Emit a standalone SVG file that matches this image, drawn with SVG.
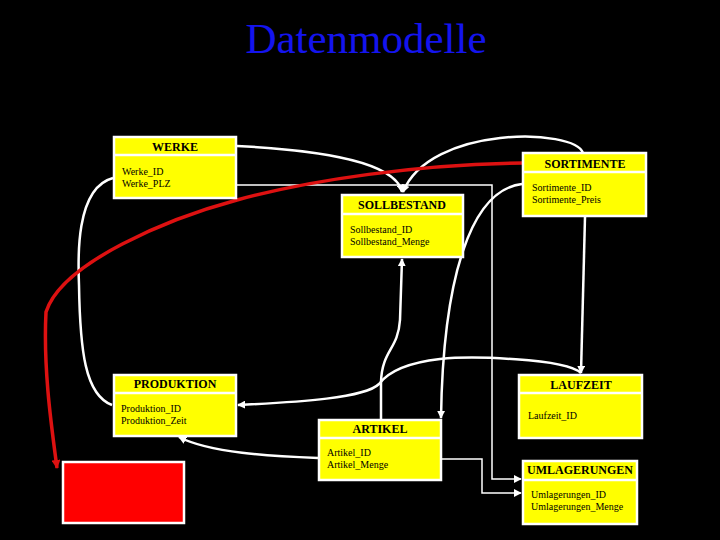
<svg xmlns="http://www.w3.org/2000/svg" width="720" height="540" viewBox="0 0 720 540">
<defs>
<marker id="aw" viewBox="0 0 10 10" refX="9" refY="5" markerWidth="8" markerHeight="8" markerUnits="userSpaceOnUse" orient="auto"><path d="M0,0 L10,5 L0,10 z" fill="#fff"/></marker>
<marker id="ar" viewBox="0 0 10 10" refX="9" refY="5" markerWidth="9" markerHeight="9" markerUnits="userSpaceOnUse" orient="auto"><path d="M0,0 L10,5 L0,10 z" fill="#dd1111"/></marker>
</defs>
<style>
.box{fill:#ffff00;stroke:#fff;stroke-width:2.5}
.sep{stroke:#fff;stroke-width:2.5}
.hd{font-family:"Liberation Serif",serif;font-weight:bold;font-size:12px;fill:#000;text-anchor:middle}
.at{font-family:"Liberation Serif",serif;font-size:10px;fill:#000}
.c{fill:none;stroke:#fff;stroke-width:2.5}
.cw{fill:none;stroke:#fff;stroke-width:1.5}
</style>
<rect width="720" height="540" fill="#000"/>
<text x="366" y="53" font-family="Liberation Serif,serif" font-size="43" fill="#1414ee" text-anchor="middle">Datenmodelle</text>

<g id="connectors">
<path class="c" d="M237,146 C320,150 396,162 402,192" marker-end="url(#aw)"/>
<path class="c" d="M583,153 C575,128 430,125 403,192" marker-end="url(#aw)"/>
<path class="c" d="M113,178 C75,188 78,260 79,285 C80,350 85,395 112,405"/>
<path class="cw" d="M237,185 L492,185 L492,479 L521,479" marker-end="url(#aw)"/>
<path class="cw" d="M442,459 L482,459 L482,493 L521,493" marker-end="url(#aw)"/>
<path class="c" d="M585,217 L581,373" marker-end="url(#aw)"/>
<path class="c" d="M522,184 C470,190 443,280 441,418" marker-end="url(#aw)"/>
<path class="c" d="M581,373 C565,358 470,356 440,359 C405,363 388,372 379,384 C365,398 300,402 238,405" marker-end="url(#aw)"/>
<path class="c" d="M381,420 L381,382 C382,350 398,350 400,320 L402,259" marker-end="url(#aw)"/>
<path class="c" d="M318,458 C270,456 210,453 179,437" marker-end="url(#aw)"/>
<path fill="none" stroke="#dd1111" stroke-width="3.5" d="M523,163 C420,164 310,180 237,200 C170,218 62,262 46,312 C43,370 52,430 57,468" marker-end="url(#ar)"/>
</g>

<g id="werke">
<rect class="box" x="114" y="137" width="122" height="61"/>
<line class="sep" x1="114" y1="155" x2="236" y2="155"/>
<text class="hd" x="175" y="151">WERKE</text>
<text class="at" x="122" y="175">Werke_ID</text>
<text class="at" x="122" y="187">Werke_PLZ</text>
</g>

<g id="sortimente">
<rect class="box" x="523" y="153" width="123" height="63"/>
<line class="sep" x1="523" y1="172" x2="646" y2="172"/>
<text class="hd" x="585" y="168">SORTIMENTE</text>
<text class="at" x="532" y="191">Sortimente_ID</text>
<text class="at" x="532" y="203">Sortimente_Preis</text>
</g>

<g id="sollbestand">
<rect class="box" x="342" y="195" width="121" height="62"/>
<line class="sep" x1="342" y1="214" x2="463" y2="214"/>
<text class="hd" x="402" y="209">SOLLBESTAND</text>
<text class="at" x="350" y="233">Sollbestand_ID</text>
<text class="at" x="350" y="245">Sollbestand_Menge</text>
</g>

<g id="produktion">
<rect class="box" x="114" y="375" width="122" height="61"/>
<line class="sep" x1="114" y1="393" x2="236" y2="393"/>
<text class="hd" x="175" y="388">PRODUKTION</text>
<text class="at" x="121" y="412">Produktion_ID</text>
<text class="at" x="121" y="424">Produktion_Zeit</text>
</g>

<g id="artikel">
<rect class="box" x="319" y="420" width="122" height="60"/>
<line class="sep" x1="319" y1="438" x2="441" y2="438"/>
<text class="hd" x="380" y="433">ARTIKEL</text>
<text class="at" x="327" y="456">Artikel_ID</text>
<text class="at" x="327" y="468">Artikel_Menge</text>
</g>

<g id="laufzeit">
<rect class="box" x="519" y="375" width="123" height="63"/>
<line class="sep" x1="519" y1="393" x2="642" y2="393"/>
<text class="hd" x="581" y="389">LAUFZEIT</text>
<text class="at" x="528" y="419">Laufzeit_ID</text>
</g>

<g id="umlagerungen">
<rect class="box" x="523" y="461" width="114" height="63"/>
<line class="sep" x1="523" y1="480" x2="637" y2="480"/>
<text class="hd" x="580" y="474">UMLAGERUNGEN</text>
<text class="at" x="531" y="498">Umlagerungen_ID</text>
<text class="at" x="531" y="510">Umlagerungen_Menge</text>
</g>

<g id="redbox">
<rect x="63" y="462" width="121" height="61" fill="#ff0000" stroke="#fff" stroke-width="2.5"/>
</g>
</svg>
